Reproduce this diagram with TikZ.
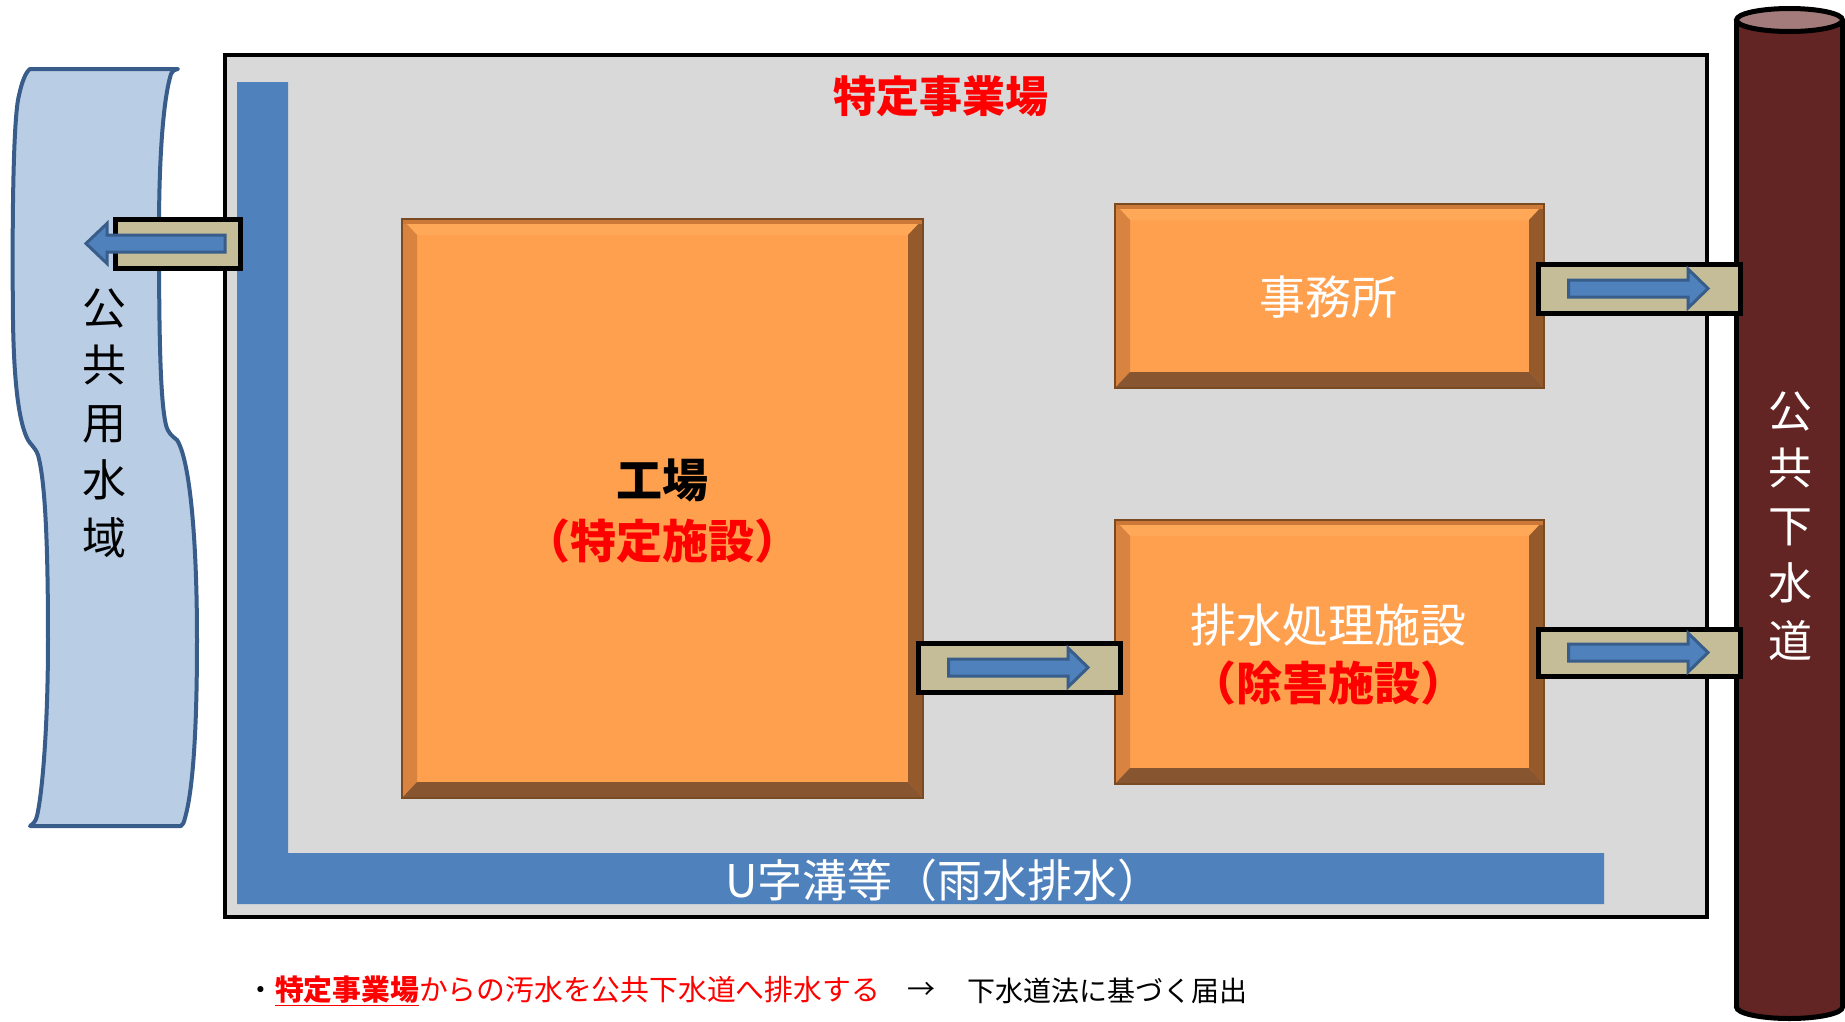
\documentclass[tikz,border=0pt]{standalone}
\usepackage{fontspec}
\newfontfamily\jp{Noto Sans CJK JP}
\definecolor{bggrey}{HTML}{D9D9D9}
\definecolor{chan}{HTML}{4F81BD}
\definecolor{chanedge}{HTML}{385D8A}
\definecolor{water}{HTML}{B9CDE5}
\definecolor{pipefill}{HTML}{C4BD97}
\definecolor{sewer}{HTML}{632523}
\definecolor{sewertop}{HTML}{A27B7A}
\definecolor{bvface}{HTML}{FFA04F}
\definecolor{bvtop}{HTML}{FFA857}
\definecolor{bvline}{HTML}{CC7838}
\definecolor{bvleft}{HTML}{D98340}
\definecolor{bvright}{HTML}{955A2B}
\definecolor{bvbot}{HTML}{875530}
\definecolor{bvedge}{HTML}{7A4A22}
\definecolor{jred}{HTML}{FF0000}
\tikzset{
  pipe/.style={draw=black, line width=5pt, fill=pipefill, inner sep=0pt},
  flowar/.style={draw=chanedge, line width=3pt, fill=chan, line join=miter},
  bigtxt/.style={inner sep=0pt, align=center, font=\jp\fontsize{46}{60}\selectfont},
  vtxt/.style={inner sep=0pt, align=center, font=\jp\fontsize{44}{57.5}\selectfont},
  smalltxt/.style={inner sep=0pt, font=\jp\fontsize{28}{32}\selectfont},
}
\newcommand\bevbox[5]{%
  \fill[bvface] (#2,#3) rectangle (#4,#5);
  \fill[bvtop] (#2,#3) -- (#4,#3) -- ({#4-15},{#3+16}) -- ({#2+15},{#3+16}) -- cycle;
  \fill[bvleft] (#2,#3) -- ({#2+15},{#3+16}) -- ({#2+15},{#5-16}) -- (#2,#5) -- cycle;
  \fill[bvright] (#4,#3) -- (#4,#5) -- ({#4-15},{#5-16}) -- ({#4-15},{#3+16}) -- cycle;
  \fill[bvbot] (#2,#5) -- (#4,#5) -- ({#4-15},{#5-16}) -- ({#2+15},{#5-16}) -- cycle;
  \fill[bvline] (#2,#3) rectangle (#4,{#3+5});
  \draw[bvedge, line width=1.2pt] (#2,#3) rectangle (#4,#5);
  \coordinate (#1) at ({(#2+#4)/2},{(#3+#5)/2});
}
\newcommand\arrowR[1]{%
  \begin{scope}[shift={(#1.center)}]
    \draw[flowar] (-70.5,-8.5) -- (49,-8.5) -- (49,-19.5) -- (69,0) -- (49,19.5) -- (49,8.5) -- (-70.5,8.5) -- cycle;
  \end{scope}}
\begin{document}
\begin{tikzpicture}[x=1pt,y=-1pt]
\useasboundingbox (0,0) rectangle (1845,1021);
\fill[white] (0,0) rectangle (1845,1021);

% public water body
\draw[draw=chanedge, line width=4pt, fill=water, line join=round]
  (30,69) -- (178,69)
  .. controls (174,70) and (172,71) .. (171,74)
  .. controls (163,100) and (159,160) .. (159,230)
  .. controls (159,330) and (160,400) .. (166,425)
  .. controls (168,433) and (172,436) .. (177,440)
  .. controls (190,460) and (197,540) .. (197,640)
  .. controls (197,730) and (193,790) .. (185,818)
  .. controls (184,822) and (183,825) .. (181,826)
  -- (30,826)
  .. controls (33,824) and (36,821) .. (37,816)
  .. controls (43,790) and (48,720) .. (48,640)
  .. controls (48,540) and (45,480) .. (38,455)
  .. controls (35,447) and (30,444) .. (28,440)
  .. controls (20,425) and (14,390) .. (13,320)
  .. controls (12,230) and (13,130) .. (18,100)
  .. controls (22,80) and (26,72) .. cycle;
\node[vtxt, text=black] (watertxt) at (104,423) {公\\共\\用\\水\\域};

% main site
\draw[line width=4pt, fill=bggrey] (225,55) rectangle (1707,917);
\fill[chan] (237,82) -- (288,82) -- (288,853) -- (1604,853) -- (1604,904) -- (237,904) -- cycle;
\node[inner sep=0pt, text=jred, font=\jp\bfseries\fontsize{43}{50}\selectfont] (title) at (941,96) {特定事業場};
\node[inner sep=0pt, text=white, font=\jp\fontsize{45}{50}\selectfont] (utxt) at (944,880) {U字溝等（雨水排水）};

% buildings
\bevbox{kojo}{402}{219}{923}{798}
\bevbox{office}{1115}{204}{1544}{388}
\bevbox{treat}{1115}{520}{1544}{784}
\node[bigtxt, text=black, font=\jp\bfseries\fontsize{46}{60}\selectfont] (kojo1) at (662,480) {工場};
\node[bigtxt, text=jred, font=\jp\bfseries\fontsize{46}{60}\selectfont] (kojo2) at (662,541) {（特定施設）};
\node[bigtxt, text=white] (officetxt) at (1328,297) {事務所};
\node[bigtxt, text=white] (treat1) at (1328,625) {排水処理施設};
\node[bigtxt, text=jred, font=\jp\bfseries\fontsize{46}{60}\selectfont] (treat2) at (1328,683) {（除害施設）};

% sewer
\draw[line width=5pt, fill=sewer] (1789.5,1007) ellipse [x radius=53, y radius=11.5];
\fill[sewer] (1736.5,20) rectangle (1842.5,1007);
\draw[line width=5pt] (1736.5,20) -- (1736.5,1007);
\draw[line width=5pt] (1842.5,20) -- (1842.5,1007);
\draw[line width=5pt, fill=sewertop] (1789.5,20) ellipse [x radius=53, y radius=11.5];
\node[vtxt, text=white] (sewertxt) at (1790,526) {公\\共\\下\\水\\道};

% pipes
\node[pipe, minimum width=125pt, minimum height=49pt] (pleft) at (178,243.5) {};
\begin{scope}[shift={(pleft.center)}]
  \draw[flowar] (47,-8.5) -- (-71,-8.5) -- (-71,-20) -- (-92,0) -- (-71,20) -- (-71,8.5) -- (47,8.5) -- cycle;
\end{scope}
\node[pipe, minimum width=202pt, minimum height=49pt] (pmid) at (1019,667.5) {};
\arrowR{pmid}
\node[pipe, minimum width=202pt, minimum height=49pt] (poffice) at (1639,288.5) {};
\arrowR{poffice}
\node[pipe, minimum width=202pt, minimum height=47pt] (ptreat) at (1639,652.5) {};
\arrowR{ptreat}

% note
\node[smalltxt, anchor=west, text=jred, font=\jp\fontsize{28.8}{32}\selectfont] (note1) at (246,991) {\textcolor{black}{・}{\bfseries\underline{特定事業場}}からの汚水を公共下水道へ排水する};
\node[smalltxt, text=black] (notearrow) at (921,991) {→};
\node[smalltxt, anchor=west, text=black] (note2) at (967,991) {下水道法に基づく届出};
\end{tikzpicture}
\end{document}
